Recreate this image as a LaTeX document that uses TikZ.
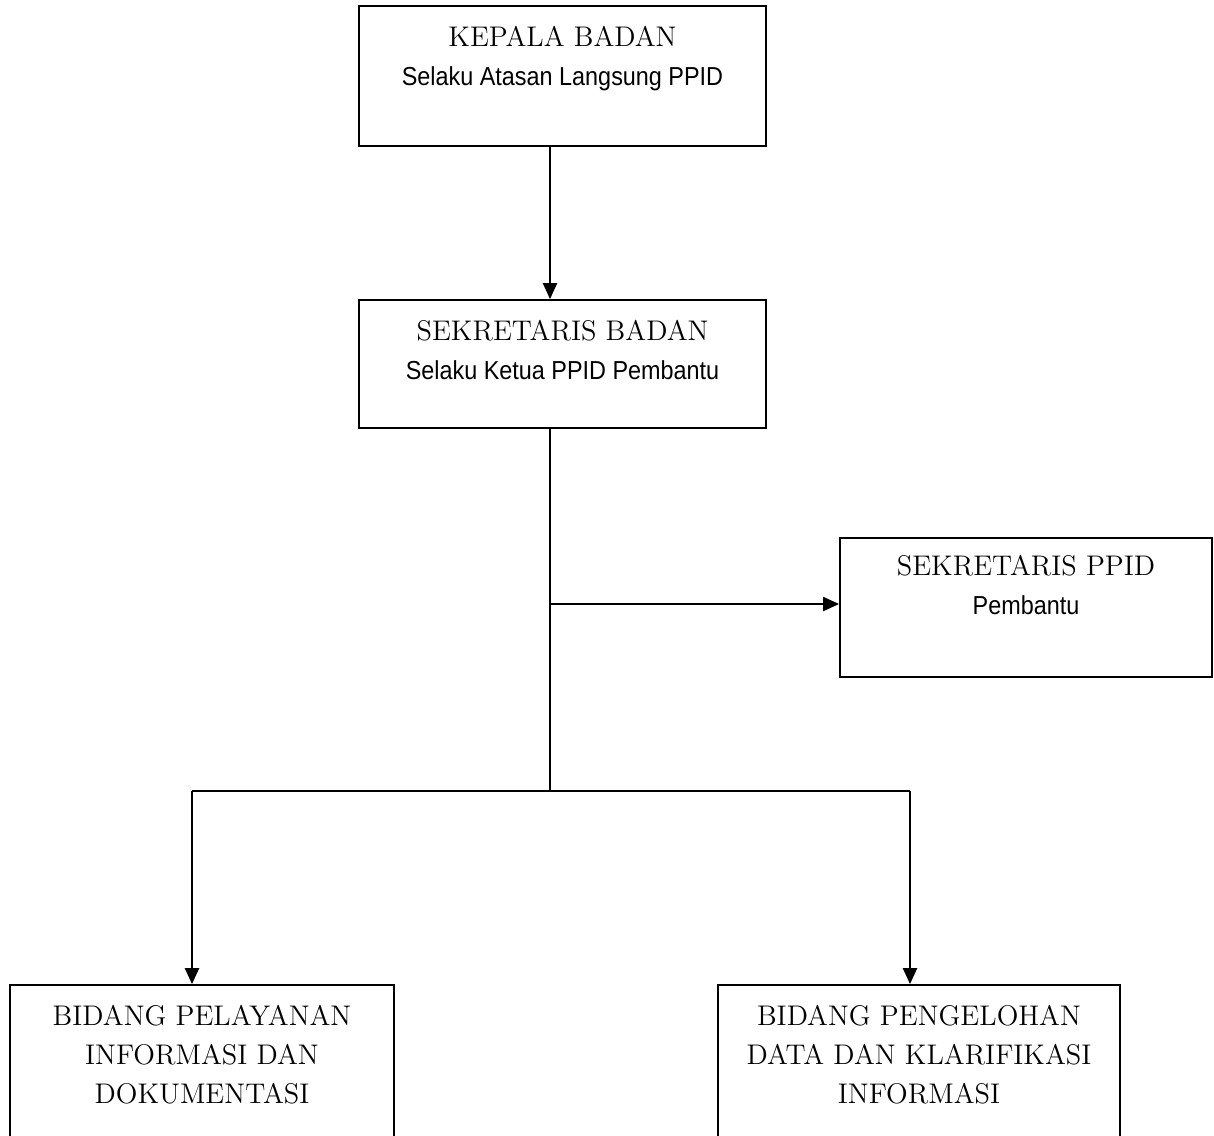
\documentclass[tikz,border=0pt]{standalone}
\usepackage{fontspec}
\newfontfamily\narrowsf[FakeStretch=0.9]{Liberation Sans}
\newcommand{\ppidsub}{\narrowsf\fontsize{13}{18.5}\selectfont}
\usetikzlibrary{arrows.meta,calc,positioning}

\begin{document}
\begin{tikzpicture}[
  x=0.5pt, y=-0.5pt,
  >={Triangle[length=8pt,width=7pt]},
  box/.style={draw, line width=0.9pt, rectangle, inner sep=0pt},
  title/.style={anchor=north, inner sep=0pt, align=center, font=\fontsize{14.2}{19.5}\selectfont},
  link/.style={line width=1pt},
  arrowD/.style={->, line width=1.1pt}
]
\useasboundingbox (0,0) rectangle (1214,1135);
\clip (0,0) rectangle (1214,1135);

% Boxes
\node[box, minimum width=203.5pt, minimum height=70pt] (kepala) at (562.5,76) {};
\node[title] (kepala-txt) at ([yshift=-10.5pt]kepala.north)
  {KEPALA BADAN\\{\ppidsub Selaku Atasan Langsung PPID}};

\node[box, minimum width=203.5pt, minimum height=64pt] (sekban) at (562.5,364) {};
\node[title] (sekban-txt) at ([yshift=-10.5pt]sekban.north)
  {SEKRETARIS BADAN\\{\ppidsub Selaku Ketua PPID Pembantu}};

\node[box, minimum width=186pt, minimum height=69.5pt] (sekppid) at (1026,607.5) {};
\node[title] (sekppid-txt) at ([yshift=-9pt]sekppid.north)
  {SEKRETARIS PPID\\{\ppidsub Pembantu}};

\node[box, minimum width=192pt, minimum height=87.5pt] (pelayanan) at (202,1072.5) {};
\node[title] (pelayanan-txt) at ([yshift=-10.5pt]pelayanan.north)
  {BIDANG PELAYANAN\\INFORMASI DAN\\DOKUMENTASI};

\node[box, minimum width=201pt, minimum height=87.5pt] (pengelolaan) at (919,1072.5) {};
\node[title] (pengelolaan-txt) at ([yshift=-10.5pt]pengelolaan.north)
  {BIDANG PENGELOHAN\\DATA DAN KLARIFIKASI\\INFORMASI};

% Junctions
\coordinate (fork) at (550,791);
\coordinate (split) at (550,604);
\coordinate (forkL) at (192,791);
\coordinate (forkR) at (910,791);

% Connectors
\draw[arrowD] (kepala.south -| fork) -- (sekban.north -| fork);
\draw[link] (sekban.south -| fork) -- (fork);
\draw[arrowD] (split) -- (sekppid.west |- split);
\draw[link] (forkL) -- (forkR);
\draw[arrowD] (forkL) -- (pelayanan.north -| forkL);
\draw[arrowD] (forkR) -- (pengelolaan.north -| forkR);
\end{tikzpicture}
\end{document}
